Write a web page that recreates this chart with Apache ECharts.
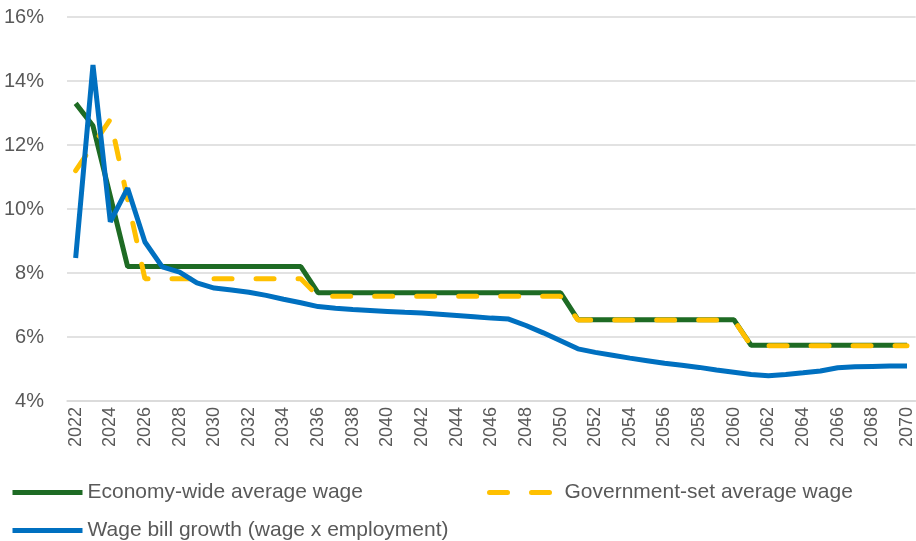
<!DOCTYPE html>
<html>
<head>
<meta charset="utf-8">
<script src="https://cdn.jsdelivr.net/npm/echarts@6/dist/echarts.min.js"></script>
<style>
  html, body { margin: 0; padding: 0; background: #fff; }
  #chart { width: 916px; height: 541px; }
</style>
</head>
<body>
<div id="chart"></div>
<script>
const years = [];
for (let y = 2022; y <= 2070; y++) years.push(String(y));

// percent values
const economyWide = [
  13.3, 12.6, 10.4, 8.2, 8.2, 8.2, 8.2, 8.2, 8.2, 8.2,
  8.2, 8.2, 8.2, 8.2, 7.38, 7.38, 7.38, 7.38, 7.38, 7.38,
  7.38, 7.38, 7.38, 7.38, 7.38, 7.38, 7.38, 7.38, 7.38, 6.54,
  6.54, 6.54, 6.54, 6.54, 6.54, 6.54, 6.54, 6.54, 6.54, 5.74,
  5.74, 5.74, 5.74, 5.74, 5.74, 5.74, 5.74, 5.74, 5.74
];
const governmentSet = [
  11.2, 12.0, 12.8, 10.3, 7.82, 7.82, 7.82, 7.82, 7.82, 7.82,
  7.82, 7.82, 7.82, 7.82, 7.27, 7.27, 7.27, 7.27, 7.27, 7.27,
  7.27, 7.27, 7.27, 7.27, 7.27, 7.27, 7.27, 7.27, 7.27, 6.53,
  6.53, 6.53, 6.53, 6.53, 6.53, 6.53, 6.53, 6.53, 6.53, 5.73,
  5.73, 5.73, 5.73, 5.73, 5.73, 5.73, 5.73, 5.73, 5.73
];
const wageBill = [
  8.47, 14.5, 9.6, 10.65, 8.97, 8.19, 8.03, 7.69, 7.53, 7.47,
  7.40, 7.30, 7.18, 7.07, 6.95, 6.90, 6.86, 6.83, 6.80, 6.77,
  6.75, 6.71, 6.67, 6.63, 6.59, 6.56, 6.36, 6.13, 5.88, 5.63,
  5.52, 5.43, 5.34, 5.26, 5.18, 5.12, 5.05, 4.97, 4.90, 4.83,
  4.79, 4.83, 4.88, 4.94, 5.04, 5.07, 5.08, 5.09, 5.09
];
const yTicks = { min: 4, max: 16, step: 2 };

const font = '"Liberation Sans", Arial, sans-serif';
const txt = '#595959';
const green = '#1e6b24', yellow = '#ffc000', blue = '#0070c0';

const chart = echarts.init(document.getElementById('chart'));

const legendBase = {
  padding: 0,
  itemWidth: 70,
  itemHeight: 20,
  itemGap: 6,
  itemStyle: { opacity: 0 },
  lineStyle: { width: 5 },
  textStyle: { fontFamily: font, fontSize: 21, color: txt },
  selectedMode: false
};

chart.setOption({
  animation: false,
  grid: { left: 67, right: 0, top: 17, bottom: 140 },
  legend: [
    { ...legendBase, data: ['Economy-wide average wage'], left: 10, top: 482 },
    { ...legendBase, data: ['Government-set average wage'], left: 487, top: 482 },
    { ...legendBase, data: ['Wage bill growth (wage x employment)'], left: 10, top: 520 }
  ],
  xAxis: {
    type: 'category',
    data: years,
    boundaryGap: true,
    axisLine: { lineStyle: { color: '#d9d9d9', width: 1.5 } },
    axisTick: { show: false },
    axisLabel: {
      interval: 1,
      rotate: 90,
      margin: 6,
      color: txt,
      fontFamily: font,
      fontSize: 18
    }
  },
  yAxis: {
    type: 'value',
    min: yTicks.min,
    max: yTicks.max,
    interval: yTicks.step,
    axisLine: { show: false },
    axisTick: { show: false },
    splitLine: { lineStyle: { color: '#d9d9d9', width: 1.5 } },
    axisLabel: {
      formatter: '{value}%',
      margin: 23,
      color: txt,
      fontFamily: font,
      fontSize: 20
    }
  },
  series: [
    {
      name: 'Economy-wide average wage',
      type: 'line',
      data: economyWide,
      symbol: 'none',
      z: 2,
      itemStyle: { color: green },
      lineStyle: { color: green, width: 5 }
    },
    {
      name: 'Government-set average wage',
      type: 'line',
      data: governmentSet,
      symbol: 'none',
      z: 3,
      itemStyle: { color: yellow },
      lineStyle: { color: yellow, width: 5, type: [18, 24], cap: 'round' }
    },
    {
      name: 'Wage bill growth (wage x employment)',
      type: 'line',
      data: wageBill,
      symbol: 'none',
      z: 4,
      itemStyle: { color: blue },
      lineStyle: { color: blue, width: 5 }
    }
  ]
});
</script>
</body>
</html>
